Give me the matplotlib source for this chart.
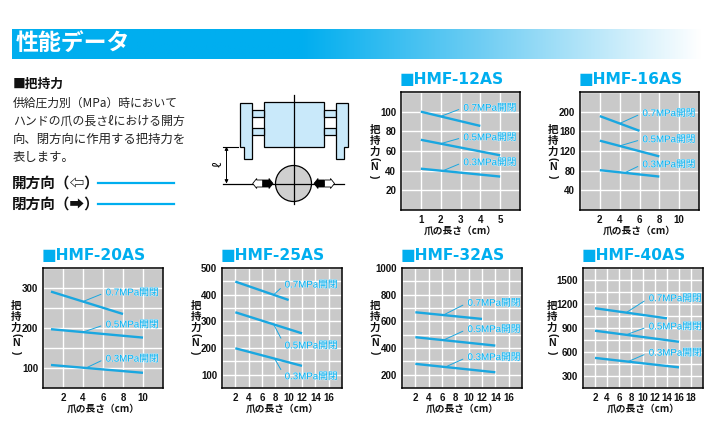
# -*- coding: utf-8 -*-
import numpy as np
import matplotlib
matplotlib.use("Agg")
import matplotlib.pyplot as plt
import matplotlib.patheffects as pe
from matplotlib.patches import Polygon, Rectangle, Circle
from matplotlib.colors import LinearSegmentedColormap

CJK = ['Noto Sans CJK JP', 'DejaVu Sans']
LATIN = ['Liberation Sans', 'Noto Sans CJK JP', 'DejaVu Sans']
plt.rcParams['font.family'] = LATIN

W = 719; H = 447
CYAN = "#00aeef"
LINE = "#1aa7e0"
GRAY = "#c9c9c9"
BODY = "#c9e9fa"

pressures = ["0.7MPa開閉", "0.5MPa開閉", "0.3MPa開閉"]

# 読み取り値 (爪の長さ cm, 把持力 N)
names = ["HMF-12AS", "HMF-16AS", "HMF-20AS", "HMF-25AS", "HMF-32AS", "HMF-40AS"]
x_07 = [[1, 4], [2, 6], [0.8, 8], [2, 10], [2, 12], [2, 14]]
y_07 = [[100, 85.5], [191, 161], [291, 235], [449, 380], [668, 618], [1147, 1021]]
x_05 = [[1, 5], [2, 8], [0.8, 10], [2, 12], [2, 14], [2, 16]]
y_05 = [[71.4, 55.6], [141, 109], [197, 176], [334, 255], [481, 418], [866, 728]]
x_03 = [[1, 5], [2, 8], [0.8, 10], [2, 12], [2, 14], [2, 16]]
y_03 = [[42, 34], [81, 68], [107.5, 88], [199, 133], [281, 218], [526, 408]]

xticks = [[1, 2, 3, 4, 5], [2, 4, 6, 8, 10], [2, 4, 6, 8, 10],
          [2, 4, 6, 8, 10, 12, 14, 16], [2, 4, 6, 8, 10, 12, 14, 16],
          [2, 4, 6, 8, 10, 12, 14, 16, 18]]
yticks = [[20, 40, 60, 80, 100], [40, 80, 120, 160, 200], [100, 200, 300],
          [100, 200, 300, 400, 500], [200, 400, 600, 800, 1000],
          [300, 600, 900, 1200, 1500]]
yticklabels = [["20", "40", "60", "80", "100"], ["40", "80", "120", "180", "200"],
               ["100", "200", "300"], ["100", "200", "300", "400", "500"],
               ["200", "400", "600", "800", "1000"],
               ["300", "600", "900", "1200", "1500"]]

xlims = [(0, 6), (0, 12), (0, 12), (0, 18), (0, 18), (0, 20)]
ylims = [(0, 120), (0, 240), (50, 350), (50, 500), (100, 1000), (150, 1650)]
xsteps = [1, 2, 2, 2, 2, 2]
ysteps = [20, 40, 50, 50, 100, 150]
boxes = [(401, 92, 119, 118), (580, 92, 119, 118), (43, 268, 120, 120),
         (222, 268, 120, 120), (402, 268, 120, 120), (583, 268, 120, 120)]
ylabel_off = [26.5, 27, 27, 26.5, 27, 31]

# 注記の位置: 引出線の付け根 x, 文字の x, 文字の y (0.7, 0.5, 0.3 の順)
anchor_x = [[2, 2, 2.1], [4, 4, 4.5], [4, 4, 4.3],
            [7.75, 7.75, 7.9], [6.2, 6.2, 6.5], [7.2, 7.2, 7.5]]
label_x = [3.15, 6.3, 6.27, 9.4, 9.83, 10.96]
label_y = [[104, 74, 48.6], [197, 144, 93], [289, 209, 123.5],
           [438, 210, 94], [739, 542, 332], [1273, 920, 592]]

fig = plt.figure(figsize=(W/100, H/100), dpi=100, facecolor="white")

# 全体を px 座標で描く下地
bg = fig.add_axes([0, 0, 1, 1])
bg.set_xlim(0, W); bg.set_ylim(H, 0); bg.axis("off")

cmap = LinearSegmentedColormap.from_list("bar", [(0, CYAN), (0.42, CYAN), (0.68, "#6fcdf3"), (1, "#ffffff")])
bg.imshow(np.linspace(0, 1, 256).reshape(1, -1), cmap=cmap, aspect="auto",
          extent=(12, 702, 59, 29), zorder=1)
bg.set_xlim(0, W); bg.set_ylim(H, 0)
bg.text(16, 43.5, "性能データ", color="white", fontsize=16.5, fontweight="bold",
        family=CJK, va="center", ha="left", zorder=2)

bg.text(13, 84, "■把持力", fontsize=9.2, fontweight="bold", family=CJK, va="center", color="#111111")
para = ["供給圧力別（MPa）時において", "ハンドの爪の長さℓにおける開方",
        "向、閉方向に作用する把持力を", "表します。"]
para_size = [8.5, 8.6, 8.9, 8.9]
for i, s in enumerate(para):
    bg.text(13, 103 + i*18, s, fontsize=para_size[i], family=CJK, va="center", color="#222222")
bg.text(12, 183, "開方向（⇦）", fontsize=10.5, fontweight="bold", family=CJK, va="center", color="#111111")
bg.text(12, 204, "閉方向（➡）", fontsize=10.5, fontweight="bold", family=CJK, va="center", color="#111111")
bg.plot([98, 174], [183, 183], color=CYAN, lw=1.6)
bg.plot([98, 174], [204, 204], color=CYAN, lw=1.6)

# ハンドの図
ec = dict(edgecolor="black", lw=0.9)
bg.add_patch(Rectangle((263.5, 101.5), 60, 45, facecolor=BODY, **ec))
for y0 in [109.5, 127.5]:
    bg.add_patch(Rectangle((251.5, y0), 12, 7.5, facecolor=BODY, **ec))
    bg.add_patch(Rectangle((323.5, y0), 12, 7.5, facecolor=BODY, **ec))
bg.add_patch(Polygon([(239.5, 102.5), (251.5, 102.5), (251.5, 158.5), (243.5, 158.5),
                      (243.5, 146.5), (239.5, 146.5)], facecolor=BODY, **ec))
bg.add_patch(Polygon([(335.5, 102.5), (347.5, 102.5), (347.5, 146.5), (343.5, 146.5),
                      (343.5, 158.5), (335.5, 158.5)], facecolor=BODY, **ec))
bg.add_patch(Circle((293.5, 183.5), 18, facecolor="#cfcfcf", **ec))
bg.plot([293.5, 293.5], [95, 204], color="black", lw=0.9)
bg.plot([222.5, 344], [183.5, 183.5], color="black", lw=0.9)
bg.plot([222.5, 238], [146.5, 146.5], color="black", lw=0.8)
bg.annotate("", xy=(226.5, 146.5), xytext=(226.5, 183.5),
            arrowprops=dict(arrowstyle="<|-|>", color="black", lw=0.7, mutation_scale=5, shrinkA=0, shrinkB=0))
bg.text(218, 164, "ℓ", fontsize=8.5, family=CJK, rotation=90, va="center", ha="center")


def block_arrow(x0, direction, fc):
    # x0 は矢じり先端
    d = direction
    pts = [(x0, 183.5), (x0 - d*4, 178.5), (x0 - d*4, 180), (x0 - d*10, 180),
           (x0 - d*10, 187), (x0 - d*4, 187), (x0 - d*4, 188.5)]
    bg.add_patch(Polygon(pts, facecolor=fc, edgecolor="black", lw=0.6, zorder=3))


block_arrow(252.7, -1, "white")
block_arrow(273, 1, "black")
block_arrow(314, -1, "black")
block_arrow(334.5, 1, "white")

# 6 つのグラフ
for i, name in enumerate(names):
    left, top, w, h = boxes[i]
    ax = fig.add_axes([left/W, 1 - (top + h)/H, w/W, h/H], facecolor=GRAY)
    ax.set_xlim(xlims[i]); ax.set_ylim(ylims[i])
    ax.set_xticks(xticks[i]); ax.set_yticks(yticks[i])
    ax.set_yticklabels(yticklabels[i])
    ax.set_xticks(np.arange(xlims[i][0], xlims[i][1] + 1, xsteps[i]), minor=True)
    ax.set_yticks(np.arange(ylims[i][0], ylims[i][1] + 1, ysteps[i]), minor=True)
    ax.grid(True, which="both", color="white", lw=1.0)
    ax.set_axisbelow(True)
    ax.tick_params(which="both", length=0)
    ax.tick_params(axis="both", labelsize=7, pad=3.5, colors="#111111")
    for lab in ax.get_xticklabels() + ax.get_yticklabels():
        lab.set_fontweight("bold")
    for s in ax.spines.values():
        s.set_linewidth(1.1); s.set_color("black")

    series = [(x_07[i], y_07[i]), (x_05[i], y_05[i]), (x_03[i], y_03[i])]
    for j, (xs, ys) in enumerate(series):
        ax.plot(xs, ys, color=LINE, lw=1.7, solid_capstyle="butt", zorder=3)
        ax_y = np.interp(anchor_x[i][j], xs, ys)
        t = ax.annotate(pressures[j], xy=(anchor_x[i][j], ax_y),
                        xytext=(label_x[i], label_y[i][j]), color=CYAN, fontsize=7,
                        va="center", ha="left", zorder=4, annotation_clip=False,
                        arrowprops=dict(arrowstyle="-", color=LINE, lw=0.7, shrinkA=1.5,
                                        shrinkB=0, relpos=(0, 0.5)))
        t.set_path_effects([pe.withStroke(linewidth=0.6, foreground="#dff1f9")])

    bg.text(left - 1, top - 12, "■" + name, color=CYAN, fontsize=11.2, fontweight="bold",
            family=['DejaVu Sans', 'Noto Sans CJK JP'], va="center", ha="left")
    bg.text(left + w/2, top + h + 21, "爪の長さ（cm）", fontsize=7, fontweight="bold",
            family=CJK, va="center", ha="center", color="#111111")
    # 縦書きの軸名
    lx = left - ylabel_off[i]
    for ch, dy, rot in [("把", 38, 0), ("持", 49, 0), ("力", 60, 0), ("(", 67, -90),
                        ("N", 75.5, 0), (")", 84, -90)]:
        bg.text(lx, top + dy, ch, fontsize=7.5, fontweight="bold", color="#111111", rotation=rot,
                va="center", ha="center", family=LATIN)

fig.savefig("out.png", dpi=100)
